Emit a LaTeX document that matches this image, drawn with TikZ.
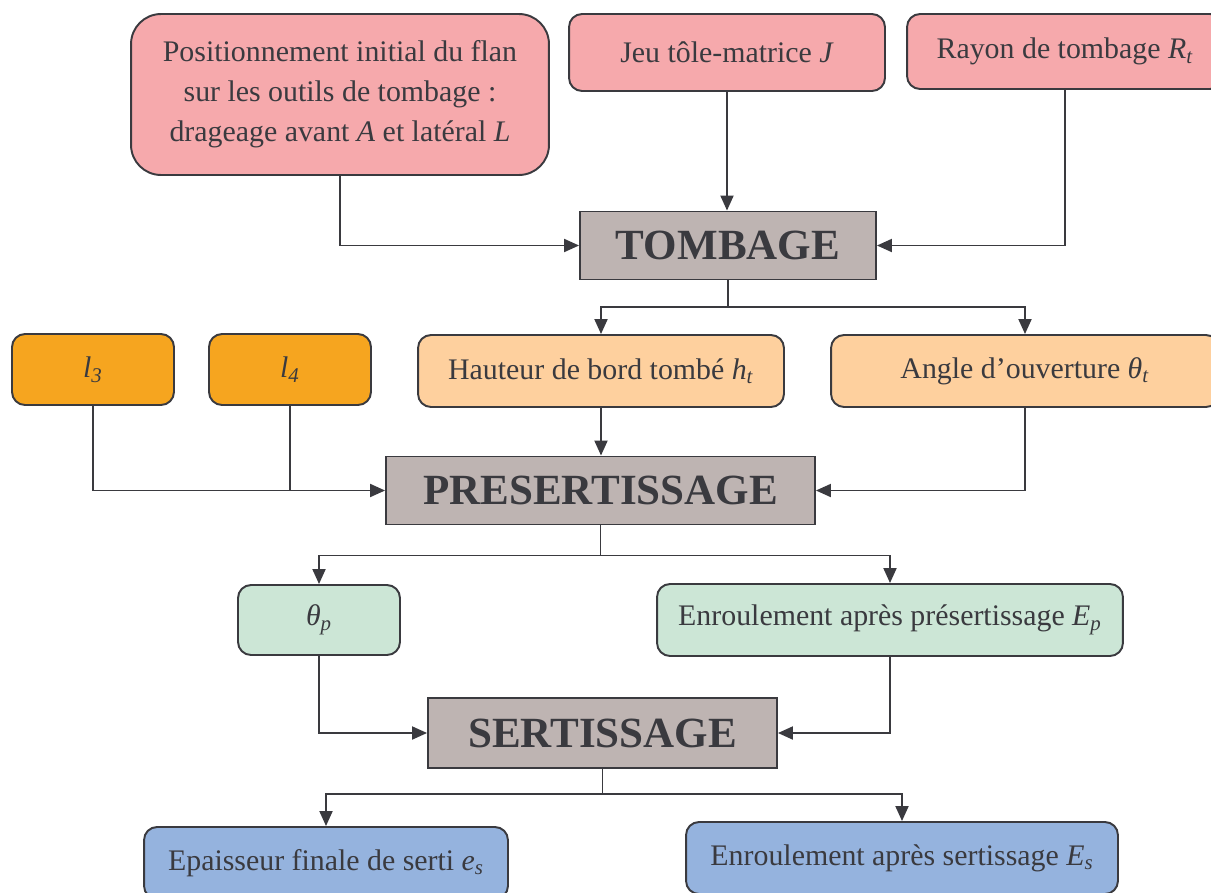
\documentclass[tikz,border=0pt]{standalone}
\usepackage{fontspec}
\setmainfont{Liberation Serif}
\usepackage{tikz}
\usetikzlibrary{positioning,arrows.meta}
\usepackage{xcolor}
\definecolor{ink}{HTML}{3A3A3F}
\definecolor{rose}{HTML}{F6A9AC}
\definecolor{taupe}{HTML}{BEB4B2}
\definecolor{amber}{HTML}{F6A51F}
\definecolor{peach}{HTML}{FED09E}
\definecolor{mint}{HTML}{CCE6D6}
\definecolor{sky}{HTML}{95B3DE}
\newcommand{\vsub}[2]{\textit{#1}\textsubscript{\textit{#2}}}

\begin{document}
\begin{tikzpicture}[x=0.02cm,y=-0.02cm,>={Triangle[length=0.3cm,width=0.26cm]},
  box/.style={draw=ink,line width=1.1pt,rounded corners=0.26cm,text=ink,align=center,
    inner sep=0pt,font=\fontsize{17}{22.7}\selectfont},
  stage/.style={draw=ink,line width=1.1pt,fill=taupe,text=ink,inner sep=0pt,
    minimum height=1.36cm,font=\fontsize{24.5}{28}\selectfont\bfseries},
  arr/.style={->,draw=ink,line width=1.1pt}]
\useasboundingbox (0,0) rectangle (1211,893);
\node (posinit) [box,fill=rose,rounded corners=0.6cm,minimum width=8.36cm,minimum height=3.22cm] at (340,94.5)
  {Positionnement initial du flan\\sur les outils de tombage :\\drageage avant \textit{A} et latéral \textit{L}};
\node (jeu) [box,fill=rose,minimum width=6.32cm,minimum height=1.54cm] at (727,52.5) {Jeu tôle-matrice \textit{J}};
\node (rayon) [box,fill=rose,minimum width=6.32cm,minimum height=1.5cm] at (1065,51.5) {Rayon de tombage \vsub{R}{t}};
\node (tombage) [stage,minimum width=5.92cm] at (728,245.5) {TOMBAGE};
\node (l3) [box,fill=amber,minimum width=3.24cm,minimum height=1.42cm] at (93,369.5) {\vsub{l}{3}};
\node (l4) [box,fill=amber,minimum width=3.24cm,minimum height=1.42cm] at (290,369.5) {\vsub{l}{4}};
\node (hauteur) [box,fill=peach,minimum width=7.32cm,minimum height=1.44cm] at (601,371) {Hauteur de bord tombé \vsub{h}{t}};
\node (angle) [box,fill=peach,minimum width=7.76cm,minimum height=1.44cm] at (1025,371) {Angle d’ouverture \vsub{θ}{t}};
\node (presert) [stage,minimum width=8.58cm] at (600.5,490.5) {PRESERTISSAGE};
\node (thetap) [box,fill=mint,minimum width=3.24cm,minimum height=1.4cm] at (319,620) {\vsub{θ}{p}};
\node (Ep) [box,fill=mint,minimum width=9.32cm,minimum height=1.44cm] at (890,620) {Enroulement après présertissage \vsub{E}{p}};
\node (sert) [stage,minimum width=6.98cm,minimum height=1.4cm] at (602.5,733) {SERTISSAGE};
\node (es) [box,fill=sky,minimum width=7.28cm,minimum height=1.44cm] at (326,863) {Epaisseur finale de serti \vsub{e}{s}};
\node (Es) [box,fill=sky,minimum width=8.64cm,minimum height=1.44cm] at (902,858) {Enroulement après sertissage \vsub{E}{s}};
\draw[arr] (posinit.south) |- (tombage.west);
\draw[arr] (jeu.south) -- (jeu.south |- tombage.north);
\draw[arr] (rayon.south) |- (tombage.east);
\draw[arr] (tombage.south) -- ++(0,27) -| (hauteur.north);
\draw[arr] (tombage.south) -- ++(0,27) -| (angle.north);
\draw[arr] (l3.south) |- (presert.west);
\draw[draw=ink,line width=1.1pt] (l4.south) -- (l4.south |- presert.west);
\draw[arr] (hauteur.south) -- (hauteur.south |- presert.north);
\draw[arr] (angle.south) |- (presert.east);
\draw[arr] (presert.south) -- ++(0,30) -| (thetap.north);
\draw[arr] (presert.south) -- ++(0,30) -| (Ep.north);
\draw[arr] (thetap.south) |- (sert.west);
\draw[arr] (Ep.south) |- (sert.east);
\draw[arr] (sert.south) -- ++(0,25) -| (es.north);
\draw[arr] (sert.south) -- ++(0,25) -| (Es.north);
\end{tikzpicture}
\end{document}
